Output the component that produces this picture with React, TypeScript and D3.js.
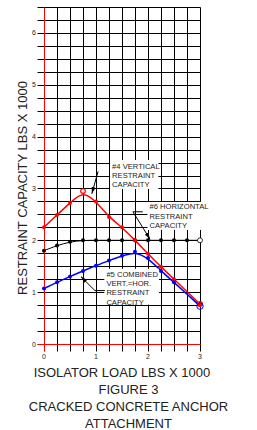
import * as d3 from 'd3'
import React, { useEffect, useRef } from 'react'

// isolator load (x1000 lbs) where the red and blue curves have points
const loadSteps = [0, 0.25, 0.5, 0.75, 1, 1.25, 1.5, 1.75, 2, 2.25, 2.5, 3]
const verticalCapacity = [2.25, 2.49, 2.72, 2.95, 2.75, 2.45, 2.25, 2.0, 1.74, 1.49, 1.25, 0.77]
const combinedCapacity = [1.07, 1.19, 1.3, 1.41, 1.51, 1.61, 1.7, 1.78, 1.66, 1.41, 1.19, 0.73]

// the horizontal curve has a point at every quarter
const horizontalSteps = [0, 0.25, 0.5, 0.75, 1, 1.25, 1.5, 1.75, 2, 2.25, 2.5, 2.75, 3]
const horizontalCapacity = [1.8, 1.9, 1.97, 2, 2, 2, 2, 2, 2, 2, 2, 2, 2]

const xTicks = [0, 1, 2, 3]
const yTicks = [0, 1, 2, 3, 4, 5, 6]
const titleLines = ['FIGURE 3', 'CRACKED CONCRETE ANCHOR', 'ATTACHMENT']

const FONT = "'Liberation Sans', Arial, sans-serif"

export default function App() {
  const svgRef = useRef<SVGSVGElement>(null)
  const width = 257
  const height = 430
  const margin = { top: 7, right: 57, bottom: 86, left: 44 }

  useEffect(() => {
    document.body.style.margin = '0'
    if (!svgRef.current) return
    const svg = d3.select(svgRef.current)
    svg.selectAll('*').remove()

    const x = d3.scaleLinear().domain([0, 3]).range([margin.left, width - margin.right])
    const y = d3.scaleLinear().domain([0, 6.5]).range([height - margin.bottom, margin.top])
    const px = (v: number) => Math.round(x(v)) + 0.5
    const py = (v: number) => Math.round(y(v)) + 0.5

    svg.append('rect').attr('width', width).attr('height', height).attr('fill', '#fff')

    const defs = svg.append('defs')
    defs
      .append('marker')
      .attr('id', 'arrow')
      .attr('markerUnits', 'userSpaceOnUse')
      .attr('viewBox', '0 0 10 6')
      .attr('refX', 10)
      .attr('refY', 3)
      .attr('markerWidth', 7)
      .attr('markerHeight', 4)
      .attr('orient', 'auto')
      .append('path')
      .attr('d', 'M0,0 L10,3 L0,6 Z')
      .attr('fill', '#000')

    // grid
    const xGrid = d3.range(0, 3.001, 0.25)
    const yGrid = d3.range(0, 6.501, 0.25)
    const grid = svg.append('g')
    grid
      .selectAll('line.h')
      .data(yGrid)
      .join('line')
      .attr('x1', px(0) - 7)
      .attr('x2', px(3))
      .attr('y1', d => py(d))
      .attr('y2', d => py(d))
      .attr('stroke', d => (d === 0 ? '#ff0000' : '#000'))
      .attr('stroke-width', 1)
    grid
      .selectAll('line.v')
      .data(xGrid)
      .join('line')
      .attr('x1', d => px(d))
      .attr('x2', d => px(d))
      .attr('y1', py(6.5))
      .attr('y2', py(0) + 7)
      .attr('stroke', d => (d === 0 ? '#ff0000' : '#000'))
      .attr('stroke-width', 1)
    // red axes on top
    grid
      .append('line')
      .attr('x1', px(0) - 7)
      .attr('x2', px(3))
      .attr('y1', py(0))
      .attr('y2', py(0))
      .attr('stroke', '#ff0000')
    grid
      .append('line')
      .attr('x1', px(0))
      .attr('x2', px(0))
      .attr('y1', py(6.5))
      .attr('y2', py(0) + 7)
      .attr('stroke', '#ff0000')

    // tick labels
    svg
      .append('g')
      .selectAll('text')
      .data(yTicks)
      .join('text')
      .attr('x', x(0) - 8)
      .attr('y', d => y(d) + 2.5)
      .attr('text-anchor', 'end')
      .style('font-family', FONT)
      .style('font-size', '7px')
      .style('fill', '#222')
      .text(d => d)
    svg
      .append('g')
      .selectAll('text')
      .data(xTicks)
      .join('text')
      .attr('x', d => x(d))
      .attr('y', y(0) + 14.5)
      .attr('text-anchor', 'middle')
      .style('font-family', FONT)
      .style('font-size', '7px')
      .style('fill', '#222')
      .text(d => d)

    // curves
    const line = d3
      .line<[number, number]>()
      .x(d => x(d[0]))
      .y(d => y(d[1]))
      .curve(d3.curveBasis)

    const red: [number, number][] = loadSteps.map((l, i) => [l, verticalCapacity[i]])
    const blue: [number, number][] = loadSteps.map((l, i) => [l, combinedCapacity[i]])
    const black: [number, number][] = horizontalSteps.map((l, i) => [l, horizontalCapacity[i]])

    svg.append('path').attr('d', line(black)).attr('fill', 'none').attr('stroke', '#000').attr('stroke-width', 1)
    svg.append('path').attr('d', line(red)).attr('fill', 'none').attr('stroke', '#ff0000').attr('stroke-width', 1.5)
    svg.append('path').attr('d', line(blue)).attr('fill', 'none').attr('stroke', '#0000ff').attr('stroke-width', 1.5)

    const dots = (pts: [number, number][], color: string) =>
      svg
        .append('g')
        .selectAll('circle')
        .data(pts.slice(0, -1))
        .join('circle')
        .attr('cx', d => x(d[0]))
        .attr('cy', d => y(d[1]))
        .attr('r', 2)
        .attr('fill', color)

    dots(black, '#000')
    dots(red, '#ff0000')
    dots(blue, '#0000ff')

    // special markers: peak of red, ends at 3
    svg
      .append('circle')
      .attr('cx', x(red[3][0]))
      .attr('cy', y(red[3][1]))
      .attr('r', 2.3)
      .attr('fill', '#fff')
      .attr('stroke', '#ff0000')
      .attr('stroke-width', 1.2)
    const lastBlack = black[black.length - 1]
    svg
      .append('circle')
      .attr('cx', x(lastBlack[0]))
      .attr('cy', y(lastBlack[1]))
      .attr('r', 2.5)
      .attr('fill', '#fff')
      .attr('stroke', '#000')
      .attr('stroke-width', 0.8)
    const lastRed = red[red.length - 1]
    svg.append('circle').attr('cx', x(lastRed[0])).attr('cy', y(lastRed[1])).attr('r', 3).attr('fill', '#ff0000')
    const lastBlue = blue[blue.length - 1]
    svg
      .append('circle')
      .attr('cx', x(lastBlue[0]))
      .attr('cy', y(lastBlue[1]))
      .attr('r', 3.2)
      .attr('fill', 'none')
      .attr('stroke', '#0000ff')
      .attr('stroke-width', 1)

    // annotations (label boxes cover the grid)
    const notes = [
      { lines: ['#4 VERTICAL', 'RESTRAINT', 'CAPACITY'], tx: 1.31, ty: 3.38, box: [1.27, 2.99, 0.93, 0.56] },
      { lines: ['#6 HORIZONTAL', 'RESTRAINT', 'CAPACITY'], tx: 2.03, ty: 2.6, box: [1.99, 2.2, 1.24, 0.54] },
      { lines: ['#5 COMBINED', 'VERT.=HOR.', 'RESTRAINT', 'CAPACITY'], tx: 1.2, ty: 1.3, box: [1.16, 0.76, 1.05, 0.69] },
    ]
    notes.forEach(n => {
      const [bx, by, bw, bh] = n.box
      svg
        .append('rect')
        .attr('x', x(bx))
        .attr('y', y(by + bh))
        .attr('width', x(bx + bw) - x(bx))
        .attr('height', y(by) - y(by + bh))
        .attr('fill', '#fff')
      svg
        .append('text')
        .attr('x', x(n.tx))
        .attr('y', y(n.ty))
        .style('font-family', FONT)
        .style('font-size', '7.6px')
        .style('fill', '#222')
        .selectAll('tspan')
        .data(n.lines)
        .join('tspan')
        .attr('x', x(n.tx))
        .attr('dy', (_, i) => (i === 0 ? 0 : 9.3))
        .text(d => d)
    })

    const leaders: [number, number][][] = [
      [
        [1.04, 3.33],
        [0.92, 2.9],
      ],
      [
        [1.9, 2.55],
        [1.71, 2.55],
        [2.04, 2.02],
      ],
      [
        [1.17, 1.03],
        [0.98, 1.03],
        [0.71, 1.3],
      ],
    ]
    const straight = d3
      .line<[number, number]>()
      .x(d => x(d[0]))
      .y(d => y(d[1]))
    leaders.forEach(pts => {
      svg
        .append('path')
        .attr('d', straight(pts))
        .attr('fill', 'none')
        .attr('stroke', '#000')
        .attr('stroke-width', 1)
        .attr('marker-end', 'url(#arrow)')
    })

    // axis titles
    svg
      .append('text')
      .attr('transform', `translate(26.5, 188) rotate(-90)`)
      .attr('text-anchor', 'middle')
      .style('font-family', FONT)
      .style('font-size', '13px')
      .style('fill', '#222')
      .text('RESTRAINT CAPACITY LBS X 1000')
    svg
      .append('text')
      .attr('x', 122)
      .attr('y', 377)
      .attr('text-anchor', 'middle')
      .style('font-family', FONT)
      .style('font-size', '13px')
      .style('fill', '#222')
      .text('ISOLATOR LOAD LBS X 1000')
    svg
      .append('g')
      .selectAll('text')
      .data(titleLines)
      .join('text')
      .attr('x', 128.5)
      .attr('y', (_, i) => 394 + i * 17)
      .attr('text-anchor', 'middle')
      .style('font-family', FONT)
      .style('font-size', '13px')
      .style('fill', '#222')
      .text(d => d)
  }, [])

  return <svg ref={svgRef} width={width} height={height} style={{ display: 'block' }} />
}
